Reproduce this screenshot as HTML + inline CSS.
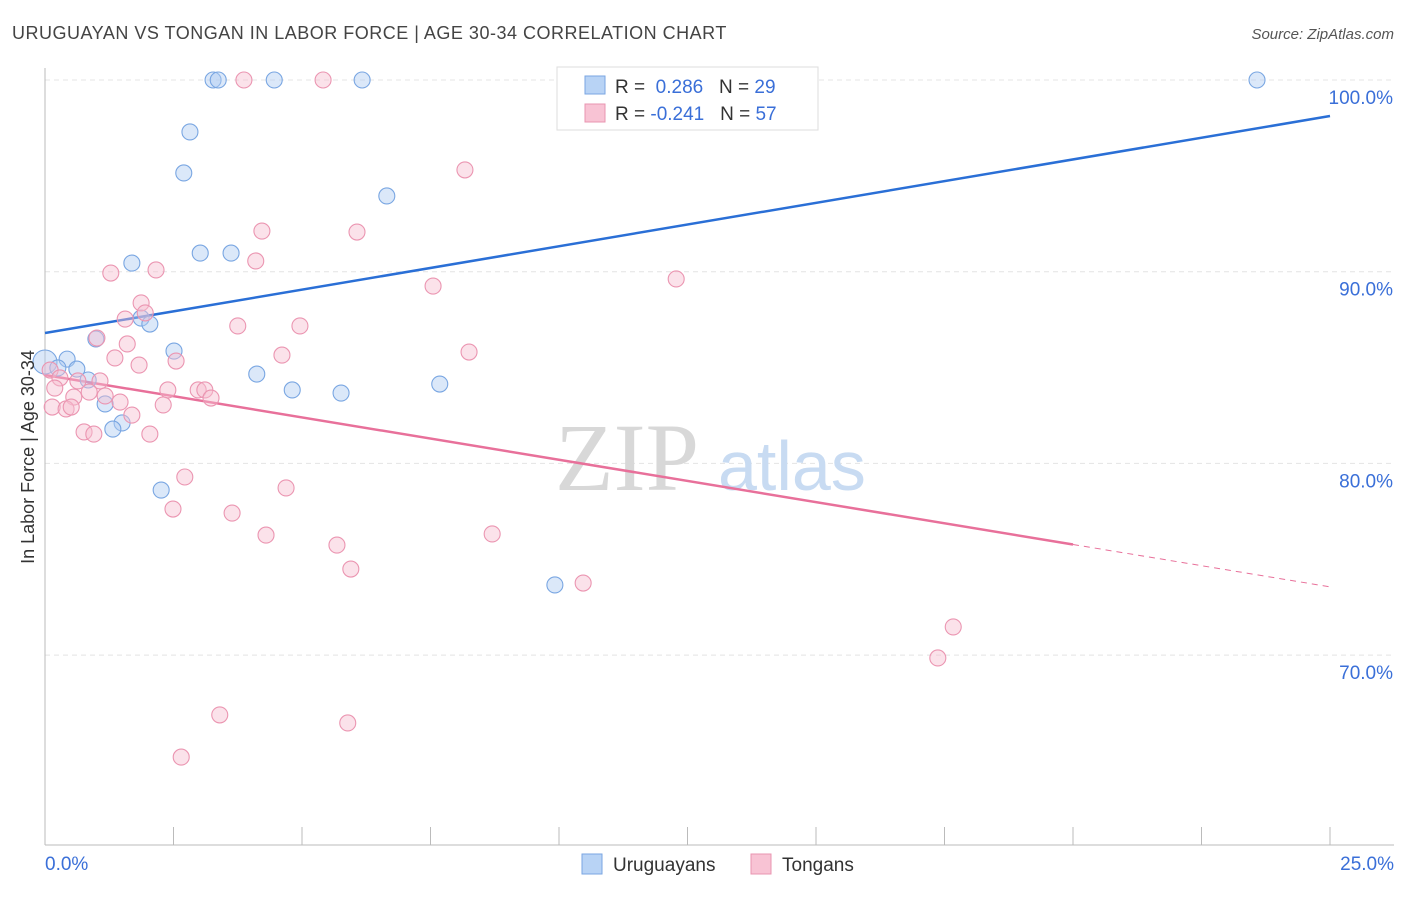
<!DOCTYPE html>
<html><head><meta charset="utf-8"><style>
body{margin:0;background:#fff;font-family:"Liberation Sans",sans-serif}
</style></head><body>
<svg width="1406" height="892" xmlns="http://www.w3.org/2000/svg" font-family="Liberation Sans, sans-serif">
<text x="12" y="39" font-size="18" letter-spacing="0.5" fill="#444">URUGUAYAN VS TONGAN IN LABOR FORCE | AGE 30-34 CORRELATION CHART</text>
<text x="1394" y="39" font-size="15" fill="#555" font-style="italic" text-anchor="end">Source: ZipAtlas.com</text>
<g id="grid"></g>
<text x="555" y="490" font-size="96" fill="#d8d8d8" font-family="Liberation Serif, serif">ZIP</text>
<text x="718" y="490" font-size="70" fill="#c8dbf2">atlas</text>
<g id="axes"></g>
<g id="lines"></g>
<g id="pts"></g>
<text transform="translate(34,457) rotate(-90)" font-size="18" fill="#333" text-anchor="middle">In Labor Force | Age 30-34</text>
<g>
<rect x="557" y="67" width="261" height="63" fill="#fff" stroke="#ddd"/>
<rect x="585" y="76" width="20" height="18" fill="#b8d3f5" stroke="#7aa6e2"/>
<rect x="585" y="104" width="20" height="18" fill="#f8c3d4" stroke="#e995b0"/>
<text x="615" y="93" font-size="19" fill="#333">R = <tspan fill="#3a6fd8">&#160;0.286</tspan>&#160;&#160;&#160;N = <tspan fill="#3a6fd8">29</tspan></text>
<text x="615" y="120" font-size="19" fill="#333">R = <tspan fill="#3a6fd8">-0.241</tspan>&#160;&#160;&#160;N = <tspan fill="#3a6fd8">57</tspan></text>
</g>
<g>
<rect x="582" y="854" width="20" height="20" fill="#b8d3f5" stroke="#7aa6e2"/>
<text x="613" y="871" font-size="19" fill="#333">Uruguayans</text>
<rect x="751" y="854" width="20" height="20" fill="#f8c3d4" stroke="#e995b0"/>
<text x="782" y="871" font-size="19" fill="#333">Tongans</text>
</g>
</svg>
<script>
const xTicks=[0,2.5,5,7.5,10,12.5,15,17.5,20,22.5,25];
const yTicks=[100,90,80,70];
const yTickLabels=["100.0%","90.0%","80.0%","70.0%"];
const xLabels=["0.0%","25.0%"];
const blueX=[0,3.27,3.37,4.46,6.17,23.58,2.82,2.70,6.65,3.02,3.62,1.69,1.87,2.04,0.99,2.51,0.43,0.25,0.62,0.84,4.12,4.81,5.76,7.68,1.17,1.50,1.32,2.26,9.92];
const blueY=[85.29,100,100,100,100,100,97.29,95.15,93.95,90.97,90.97,90.45,87.58,87.27,86.49,85.86,85.44,84.98,84.92,84.35,84.66,83.83,83.67,84.14,83.10,82.11,81.79,78.61,73.66];
const pinkX=[3.87,5.41,8.17,4.22,6.07,4.10,1.28,2.16,12.28,7.55,1.87,1.95,1.56,3.75,4.96,1.01,1.60,4.61,8.25,1.36,1.83,2.55,0.10,0.29,1.07,0.64,0.19,0.86,0.56,2.39,2.98,3.11,3.23,1.17,1.46,2.30,0.14,0.41,0.51,1.69,0.76,0.95,2.04,2.72,4.69,2.49,3.64,4.30,8.70,5.68,5.95,10.47,17.67,17.37,3.40,5.89,2.65];
const pinkY=[100,100,95.31,92.12,92.07,90.56,89.93,90.09,89.62,89.25,88.37,87.85,87.53,87.17,87.17,86.54,86.23,85.65,85.81,85.50,85.13,85.34,84.87,84.46,84.30,84.30,83.93,83.72,83.46,83.83,83.83,83.83,83.41,83.52,83.20,83.05,82.94,82.84,82.94,82.52,81.64,81.53,81.53,79.29,78.72,77.62,77.41,76.26,76.32,75.74,74.49,73.76,71.47,69.85,66.88,66.46,64.68];
const blueTrend=[86.80,98.12];
const pinkTrend=[84.61,73.56];
const NS="http://www.w3.org/2000/svg";
const sx=v=>45+v/25*1285;
const sy=v=>80+(100-v)*19.17;
function mk(t,a,p){const e=document.createElementNS(NS,t);for(const k in a)e.setAttribute(k,a[k]);p.appendChild(e);return e;}
const grid=document.getElementById('grid'),axes=document.getElementById('axes'),lines=document.getElementById('lines'),pts=document.getElementById('pts');
yTicks.forEach((t,i)=>{
 const l=mk('line',{x1:45,x2:1394,y1:sy(t),y2:sy(t),stroke:'#e4e4e4','stroke-dasharray':'5,4'},grid);
 
 
 const tx=mk('text',{x:1393,y:sy(t)+24,'font-size':19,fill:'#3a6fd8','text-anchor':'end'},axes);
 tx.textContent=yTickLabels[i];
 
 
});
const ax=mk('line',{x1:45,x2:1394,y1:845,y2:845,stroke:'#bbb'},axes);


const ay=mk('line',{x1:45,x2:45,y1:68,y2:845,stroke:'#bbb'},axes);


xTicks.forEach(t=>{
 const l=mk('line',{x1:sx(t),x2:sx(t),y1:827,y2:845,stroke:'#bbb'},axes);
 
 
});
[[0,45,'start'],[1,1394,'end']].forEach(([i,x,a])=>{
 const tx=mk('text',{x:x,y:870,'font-size':19,fill:'#3a6fd8','text-anchor':a},axes);
 tx.textContent=xLabels[i];
 
 
});
function dot(x,y,r,f,s,name){const c=mk('circle',{cx:sx(x),cy:sy(y),r:r,fill:f,'fill-opacity':0.45,stroke:s,'stroke-width':1.1},pts);
 
 }
blueX.forEach((x,i)=>dot(x,blueY[i],i===0?12:8,'#b0cdf2','#79a6e2','uruguayan-point'));
pinkX.forEach((x,i)=>dot(x,pinkY[i],8,'#f7bfd1','#eb95b1','tongan-point'));
const bl=mk('line',{x1:sx(0),y1:sy(blueTrend[0]),x2:sx(25),y2:sy(blueTrend[1]),stroke:'#2a6fd6','stroke-width':2.5},lines);


const p20=pinkTrend[0]+(pinkTrend[1]-pinkTrend[0])*0.8;
const pl=mk('line',{x1:sx(0),y1:sy(pinkTrend[0]),x2:sx(20),y2:sy(p20),stroke:'#e8709a','stroke-width':2.5},lines);


const pd=mk('line',{x1:sx(20),y1:sy(p20),x2:sx(25),y2:sy(pinkTrend[1]),stroke:'#e8709a','stroke-width':1,'stroke-dasharray':'6,5'},lines);


</script>
</body></html>
